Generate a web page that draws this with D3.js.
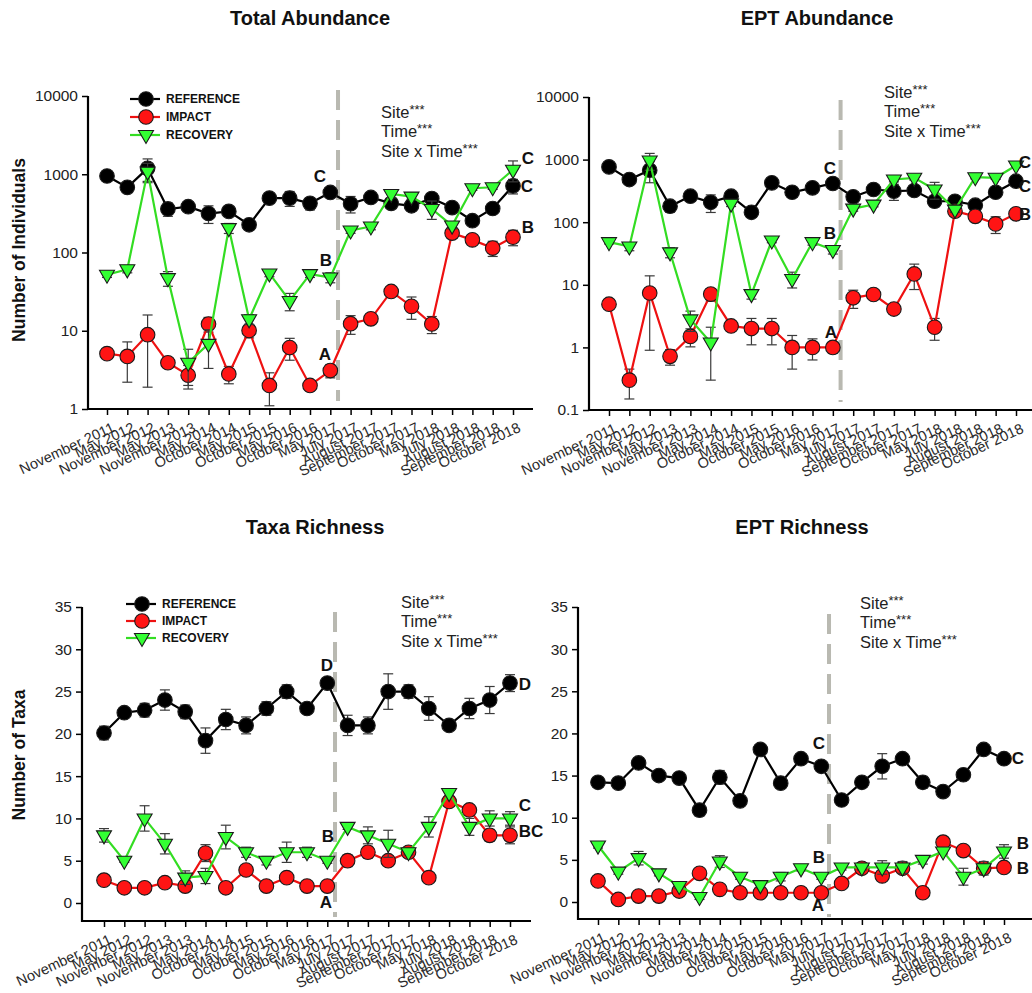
<!DOCTYPE html>
<html>
<head>
<meta charset="utf-8">
<script src="https://cdn.jsdelivr.net/npm/d3@7"></script>
<style>
  body { margin: 0; background: #fff; }
  svg { display: block; }
  text { font-family: Arial, "Liberation Sans", sans-serif; }
</style>
</head>
<body>
<script>
// Sampling dates (x categories)
const dates = ["November 2011", "May 2012", "November 2012", "May 2013", "November 2013",
  "May 2014", "October 2014", "May 2015", "October 2015", "May 2016", "October 2016",
  "May 2017", "July 2017", "August 2017", "September 2017", "October 2017", "May 2018",
  "July 2018", "August 2018", "September 2018", "October 2018"];

const siteNames = ["REFERENCE", "IMPACT", "RECOVERY"];

// Total abundance (mean and SE)
const totalRef = [950, 680, 1190, 360, 385, 315, 335, 226, 495, 495, 425, 585, 420, 505, 425, 395, 490, 375, 255, 365, 710];
const totalRefSE = [40, 30, 380, 70, 30, 80, 30, 15, 40, 107, 75, 30, 100, 65, 30, 55, 80, 50, 20, 50, 150];
const totalImp = [5.1, 4.7, 8.9, 3.9, 2.7, 12.2, 2.8, 10.1, 2.0, 6.1, 2.0, 3.1, 12.3, 14.2, 31.8, 20.5, 12.2, 177, 145, 114, 157];
const totalImpSE = [0.3, 2.5, 7, 0.4, 0.9, 2.6, 0.7, 2, 0.9, 1.9, 0.3, 0.6, 3.3, 1.2, 2, 6.5, 3, 25, 12, 25, 35];
const totalRec = [52, 61, 1080, 47, 3.9, 6.8, 205, 14, 54, 24, 53, 48, 191, 215, 560, 518, 360, 221, 663, 682, 1140];
const totalRecSE = [4, 6, 300, 10, 1.9, 3.5, 30, 2, 5, 6, 5, 7, 15, 20, 60, 40, 95, 20, 40, 40, 340];

// EPT abundance
const eptAbRef = [765, 480, 677, 180, 260, 208, 260, 144, 425, 301, 354, 415, 254, 333, 313, 321, 216, 216, 187, 301, 452];
const eptAbRefSE = [40, 40, 250, 36, 30, 65, 30, 15, 40, 50, 30, 30, 40, 30, 90, 30, 40, 20, 20, 50, 40];
const eptAbImp = [4.9, 0.30, 7.4, 0.72, 1.5, 7.1, 2.2, 2.0, 2.0, 1.0, 1.0, 1.0, 6.2, 7.0, 4.1, 14.9, 2.1, 150, 124, 94, 136];
const eptAbImpSE = [0.3, 0.15, 6.5, 0.2, 0.48, 1.6, 0.4, 0.9, 0.9, 0.55, 0.37, 0.2, 2, 0.6, 0.4, 6.5, 0.8, 10, 10, 28, 20];
const eptAbRec = [48, 41, 966, 33, 2.8, 1.2, 198, 7.1, 51, 12.4, 48, 36, 165, 191, 481, 512, 333, 159, 523, 512, 805];
const eptAbRecSE = [3, 6, 290, 6, 1, 0.9, 20, 1.2, 4, 3.5, 5, 5, 15, 15, 40, 40, 100, 15, 30, 30, 60];

// Taxa richness
const taxaRef = [20.1, 22.5, 22.8, 24.0, 22.6, 19.2, 21.7, 21.0, 23.0, 25.0, 23.0, 26.0, 21.0, 21.0, 25.0, 25.0, 23.0, 21.0, 23.0, 24.0, 26.0];
const taxaRefSE = [0.8, 0.4, 0.8, 1.2, 0.8, 1.5, 1.2, 1.0, 0.8, 0.8, 0.6, 0.3, 1.2, 1.0, 2.1, 0.8, 1.4, 0.3, 1.2, 1.6, 1.0];
const taxaImp = [2.7, 1.8, 1.8, 2.4, 2.0, 5.9, 1.8, 3.9, 2.0, 3.0, 2.0, 2.0, 5.0, 6.0, 5.0, 6.0, 3.0, 12.0, 11.0, 8.0, 8.0];
const taxaImpSE = [0.3, 0.2, 0.2, 0.3, 0.3, 1.0, 0.2, 0.4, 0.3, 0.5, 0.3, 0.3, 0.7, 0.7, 0.5, 0.4, 0.2, 0.5, 0.3, 0.7, 1.0];
const taxaRec = [8, 5, 10, 7, 3, 3.2, 7.8, 6, 5, 6, 6, 5, 9, 8, 7, 6, 9, 13, 9, 10, 10];
const taxaRecSE = [0.8, 0.2, 1.5, 1.2, 0.8, 0.9, 1.4, 0.6, 0.5, 1.2, 0.6, 0.3, 0.3, 1.0, 1.6, 0.3, 1.2, 0.3, 1.0, 0.9, 0.8];

// EPT richness
const eptRichRef = [14.2, 14.1, 16.5, 15.0, 14.7, 10.9, 14.8, 12.0, 18.1, 14.1, 17.0, 16.1, 12.1, 14.2, 16.1, 17.0, 14.2, 13.1, 15.1, 18.1, 17.0];
const eptRichRefSE = [0.5, 0.3, 0.6, 0.3, 0.6, 0.7, 0.8, 0.3, 0.3, 0.3, 0.3, 0.3, 0.4, 0.3, 1.5, 0.3, 0.7, 0.3, 0.6, 0.3, 0.3];
const eptRichImp = [2.5, 0.3, 0.7, 0.7, 1.3, 3.4, 1.5, 1.1, 1.1, 1.1, 1.1, 1.1, 2.2, 4.0, 3.1, 4.0, 1.1, 7.1, 6.1, 4.0, 4.1];
const eptRichImpSE = [0.3, 0.2, 0.2, 0.2, 0.3, 0.3, 0.2, 0.2, 0.2, 0.2, 0.2, 0.2, 0.3, 0.3, 0.3, 0.5, 0.2, 0.3, 0.3, 0.5, 0.3];
const eptRichRec = [6.7, 3.6, 5.2, 3.4, 1.9, 0.6, 4.8, 3.0, 2.0, 3.0, 4.0, 3.0, 4.1, 4.1, 4.1, 4.1, 5.0, 6.0, 3.0, 4.0, 6.0];
const eptRichRecSE = [0.3, 0.3, 0.8, 0.3, 0.3, 0.3, 0.7, 0.3, 0.3, 0.5, 0.3, 0.3, 0.3, 0.3, 0.8, 0.7, 0.5, 0.3, 1.0, 0.8, 0.8];

// Statistical test summary
const statLines = ["Site", "Time", "Site x Time"];
const statStars = "***";

// Pre/post disturbance boundary (between May 2017 and July 2017)
const breakPos = 11.38;

const W = 1032, H = 993;
const svg = d3.select("body").append("svg").attr("width", W).attr("height", H);

const siteStyle = [
  { line: "#000000", fill: "#000000", shape: "circle" },
  { line: "#ee1111", fill: "#ff1414", shape: "circle" },
  { line: "#33dd22", fill: "#33ff33", shape: "tri" }
];

const triPath = "M-7.5,-4.5L7.5,-4.5L0,8.5Z";

function drawPanel(p) {
  const g = svg.append("g");
  const x = d3.scaleLinear().domain([0, dates.length - 1]).range([p.first, p.last]);
  const y = (p.log ? d3.scaleLog() : d3.scaleLinear()).domain(p.domain).range([p.yLow, p.yHigh]);

  // panel title
  g.append("text").attr("x", p.titleX).attr("y", p.titleY)
    .attr("text-anchor", "middle").attr("font-weight", "bold").attr("font-size", 20)
    .attr("fill", "#111").text(p.title);

  // y axis
  const ya = d3.axisLeft(y).tickValues(p.ticks).tickFormat(p.fmt).tickSize(6).tickPadding(4);
  const yg = g.append("g").attr("transform", `translate(${p.axisX},0)`).call(ya);
  yg.select(".domain").remove();
  yg.selectAll(".tick text").attr("font-size", 15.5).attr("fill", "#222");
  yg.selectAll(".tick line").attr("stroke", "#000").attr("stroke-width", 1.5);
  g.append("line").attr("x1", p.axisX).attr("x2", p.axisX)
    .attr("y1", p.yHigh).attr("y2", p.base + 1)
    .attr("stroke", "#000").attr("stroke-width", 2.2);

  if (p.yTitle) {
    g.append("text")
      .attr("transform", `translate(${p.yTitleX},${p.yTitleY}) rotate(-90)`)
      .attr("text-anchor", "middle").attr("font-weight", "bold").attr("font-size", 17.5)
      .attr("fill", "#111").text(p.yTitle);
  }

  // x axis
  const xa = d3.axisBottom(x).tickValues(d3.range(dates.length)).tickFormat(i => dates[i]).tickSize(6);
  const xg = g.append("g").attr("transform", `translate(0,${p.base})`).call(xa);
  xg.select(".domain").remove();
  xg.selectAll(".tick line").attr("stroke", "#000").attr("stroke-width", 1.5);
  xg.selectAll(".tick text")
    .attr("y", 0).attr("dy", null)
    .attr("transform", "translate(8,22) rotate(-25)")
    .attr("text-anchor", "end").attr("font-size", 14.6).attr("fill", "#2a2a2a");
  g.append("line").attr("x1", p.axisX - 1).attr("x2", p.xEnd)
    .attr("y1", p.base).attr("y2", p.base)
    .attr("stroke", "#000").attr("stroke-width", 2.2);

  // disturbance boundary
  g.append("line").attr("x1", x(breakPos)).attr("x2", x(breakPos))
    .attr("y1", p.dashTop).attr("y2", p.dashBottom)
    .attr("stroke", "#b9b9b1").attr("stroke-width", 4)
    .attr("stroke-dasharray", "20,10");

  // series
  const lower = p.log ? y.domain()[0] : -Infinity;
  p.series.forEach((s, k) => {
    const st = siteStyle[k];
    const sg = g.append("g");
    // error bars
    s.vals.forEach((v, i) => {
      const e = s.se[i];
      const lo = Math.max(v - e, lower), hi = v + e;
      const cx = x(i);
      sg.append("line").attr("x1", cx).attr("x2", cx).attr("y1", y(lo)).attr("y2", y(hi))
        .attr("stroke", "#3a3a3a").attr("stroke-width", 1.2);
      [lo, hi].forEach(b => {
        sg.append("line").attr("x1", cx - 5).attr("x2", cx + 5).attr("y1", y(b)).attr("y2", y(b))
          .attr("stroke", "#3a3a3a").attr("stroke-width", 1.2);
      });
    });
    // connecting line
    sg.append("path").datum(s.vals)
      .attr("d", d3.line().x((d, i) => x(i)).y(d => y(d)))
      .attr("fill", "none").attr("stroke", st.line).attr("stroke-width", 2.2);
    // markers
    s.vals.forEach((v, i) => {
      if (st.shape === "circle") {
        sg.append("circle").attr("cx", x(i)).attr("cy", y(v)).attr("r", 7.3)
          .attr("fill", st.fill).attr("stroke", "#1a1a1a").attr("stroke-width", 1.1);
      } else {
        sg.append("path").attr("d", triPath)
          .attr("transform", `translate(${x(i)},${y(v)})`)
          .attr("fill", st.fill).attr("stroke", "#1a1a1a").attr("stroke-width", 1.1);
      }
    });
  });

  // significance letters
  p.letters.forEach(l => {
    g.append("text").attr("x", l[0]).attr("y", l[1]).attr("dy", "0.36em")
      .attr("text-anchor", "middle").attr("font-weight", "bold").attr("font-size", 17)
      .attr("fill", "#111").text(l[2]);
  });

  // statistics summary
  statLines.forEach((s, i) => {
    const t = g.append("text").attr("x", p.statX).attr("y", p.statY + i * 19.3)
      .attr("font-size", 16.5).attr("fill", "#222");
    t.append("tspan").text(s);
    t.append("tspan").attr("font-size", 13).attr("dy", -4).text(statStars);
  });

  // legend
  if (p.legend) {
    siteNames.forEach((name, k) => {
      const st = siteStyle[k];
      const ly = p.legend.y + k * p.legend.step;
      const lx = p.legend.x;
      g.append("line").attr("x1", lx).attr("x2", lx + 30).attr("y1", ly).attr("y2", ly)
        .attr("stroke", st.line).attr("stroke-width", 2.2);
      if (st.shape === "circle") {
        g.append("circle").attr("cx", lx + 16).attr("cy", ly).attr("r", 7.3)
          .attr("fill", st.fill).attr("stroke", "#1a1a1a").attr("stroke-width", 1.1);
      } else {
        g.append("path").attr("d", triPath).attr("transform", `translate(${lx + 16},${ly})`)
          .attr("fill", st.fill).attr("stroke", "#1a1a1a").attr("stroke-width", 1.1);
      }
      g.append("text").attr("x", lx + 36).attr("y", ly).attr("dy", "0.36em")
        .attr("font-weight", "bold").attr("font-size", 12).attr("fill", "#111").text(name);
    });
  }
}

const logFmt = d => (d < 1 ? d3.format(".1f")(d) : d3.format("d")(d));

drawPanel({
  title: "Total Abundance", titleX: 310, titleY: 25,
  log: true, domain: [1, 10000], yLow: 409, yHigh: 96, base: 409,
  ticks: [1, 10, 100, 1000, 10000], fmt: logFmt,
  axisX: 88, first: 107, last: 513, xEnd: 533,
  yTitle: "Number of Individuals", yTitleX: 25, yTitleY: 250,
  dashTop: 90, dashBottom: 401,
  series: [
    { vals: totalRef, se: totalRefSE },
    { vals: totalImp, se: totalImpSE },
    { vals: totalRec, se: totalRecSE }
  ],
  letters: [[320, 176, "C"], [326, 260, "B"], [325, 354, "A"],
            [528, 158, "C"], [527, 186, "C"], [528, 227, "B"]],
  statX: 381, statY: 118,
  legend: { x: 130, y: 99, step: 18 }
});

drawPanel({
  title: "EPT Abundance", titleX: 817, titleY: 25,
  log: true, domain: [0.1, 10000], yLow: 410, yHigh: 97, base: 410,
  ticks: [0.1, 1, 10, 100, 1000, 10000], fmt: logFmt,
  axisX: 589, first: 609, last: 1016, xEnd: 1032,
  dashTop: 100, dashBottom: 402,
  series: [
    { vals: eptAbRef, se: eptAbRefSE },
    { vals: eptAbImp, se: eptAbImpSE },
    { vals: eptAbRec, se: eptAbRecSE }
  ],
  letters: [[830, 168, "C"], [830, 233, "B"], [831, 332, "A"],
            [1025, 162, "C"], [1025, 186, "C"], [1025, 214, "B"]],
  statX: 884, statY: 98
});

drawPanel({
  title: "Taxa Richness", titleX: 315, titleY: 534,
  log: false, domain: [0, 35], yLow: 903, yHigh: 607, base: 921,
  ticks: d3.range(0, 36, 5), fmt: d3.format("d"),
  axisX: 82, first: 104, last: 510, xEnd: 531,
  yTitle: "Number of Taxa", yTitleX: 25, yTitleY: 755,
  dashTop: 612, dashBottom: 917,
  series: [
    { vals: taxaRef, se: taxaRefSE },
    { vals: taxaImp, se: taxaImpSE },
    { vals: taxaRec, se: taxaRecSE }
  ],
  letters: [[327, 665, "D"], [328, 836, "B"], [326, 902, "A"],
            [525, 684, "D"], [525, 805, "C"], [531, 831, "BC"]],
  statX: 401, statY: 608,
  legend: { x: 126, y: 604, step: 17 }
});

drawPanel({
  title: "EPT Richness", titleX: 802, titleY: 534,
  log: false, domain: [0, 35], yLow: 902, yHigh: 607, base: 919,
  ticks: d3.range(0, 36, 5), fmt: d3.format("d"),
  axisX: 578, first: 598, last: 1004, xEnd: 1032,
  dashTop: 614, dashBottom: 917,
  series: [
    { vals: eptRichRef, se: eptRichRefSE },
    { vals: eptRichImp, se: eptRichImpSE },
    { vals: eptRichRec, se: eptRichRecSE }
  ],
  letters: [[819, 743, "C"], [819, 857, "B"], [818, 905, "A"],
            [1018, 758, "C"], [1023, 843, "B"], [1023, 868, "B"]],
  statX: 860, statY: 609
});
</script>
</body>
</html>
